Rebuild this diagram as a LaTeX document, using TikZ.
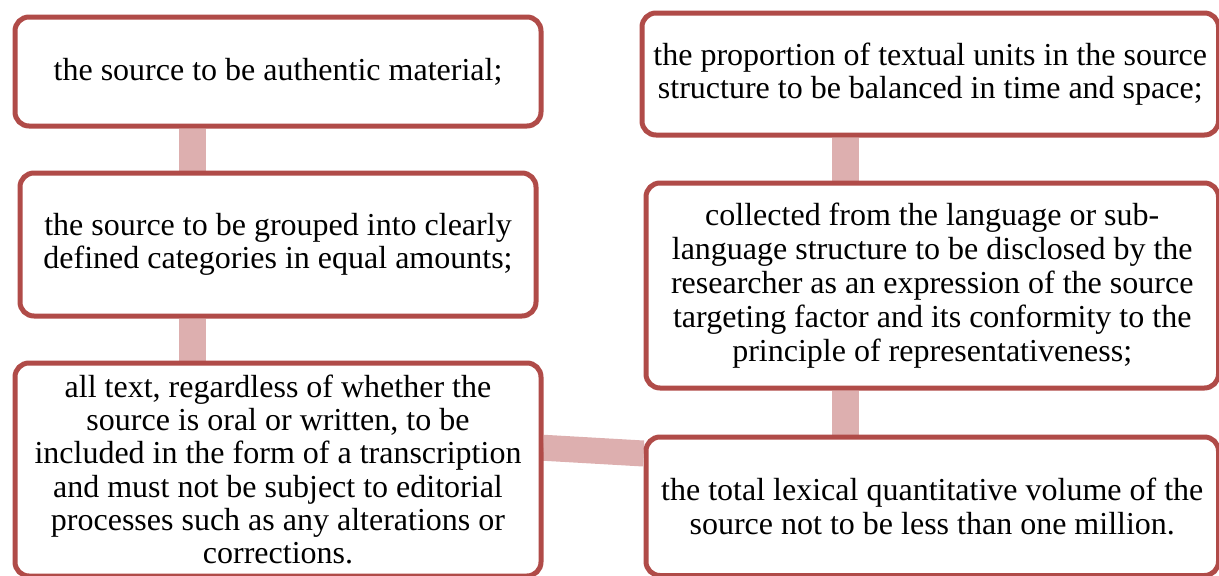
\documentclass[tikz,border=0pt]{standalone}
\usepackage{fontspec}
\setmainfont{Liberation Serif}
\usetikzlibrary{backgrounds}
\definecolor{boxred}{HTML}{B04B48}
\definecolor{linkpink}{HTML}{DDAFAF}
\begin{document}
\begin{tikzpicture}[x=1pt,y=-1pt,
  item/.style={draw=boxred, line width=5pt, rounded corners=14pt, fill=white,
    anchor=north west, inner sep=0pt, align=center,
    font=\rmfamily\fontsize{32}{33.5}\selectfont},
  link/.style={draw=linkpink, line width=27pt}]
\useasboundingbox (0,0) rectangle (1219,576);
\clip (0,0) rectangle (1219,576);
\node[item, minimum width=526pt, minimum height=109pt] (A) at (12.5,14.5)
  {the source to be authentic material;};
\node[item, minimum width=516pt, minimum height=143pt] (B) at (17.5,170.5)
  {the source to be grouped into clearly\\defined categories in equal amounts;};
\node[item, minimum width=526pt, minimum height=213pt, font=\rmfamily\fontsize{32}{33.2}\selectfont] (C) at (12.5,360.5)
  {all text, regardless of whether the\\source is oral or written, to be\\included in the form of a transcription\\and must not be subject to editorial\\processes such as any alterations or\\corrections.};
\node[item, minimum width=576.5pt, minimum height=122pt] (D) at (639.5,10.5)
  {the proportion of textual units in the source\\structure to be balanced in time and space;};
\node[item, minimum width=572.5pt, minimum height=205pt, font=\rmfamily\fontsize{32}{34}\selectfont] (E) at (643.5,180.5)
  {collected from the language or sub-\\language structure to be disclosed by the\\researcher as an expression of the source\\targeting factor and its conformity to the\\principle of representativeness;};
\node[item, minimum width=572.5pt, minimum height=138.5pt] (F) at (643.5,434.5)
  {the total lexical quantitative volume of the\\source not to be less than one million.};
\begin{pgfonlayer}{background}
\draw[link] ([xshift=-85.5pt]A.south) -- ([xshift=-85.5pt]B.north);
\draw[link] ([xshift=-85.5pt]B.south) -- ([xshift=-85.5pt]C.north);
\draw[link] ([xshift=-84.75pt]D.south) -- ([xshift=-86.75pt]E.north);
\draw[link] ([xshift=-86.75pt]E.south) -- ([xshift=-86.75pt]F.north);
\draw[line width=26pt, draw=linkpink] ([yshift=21.75pt]C.east) -- ([yshift=52.75pt]F.west);
\end{pgfonlayer}
\end{tikzpicture}
\end{document}
